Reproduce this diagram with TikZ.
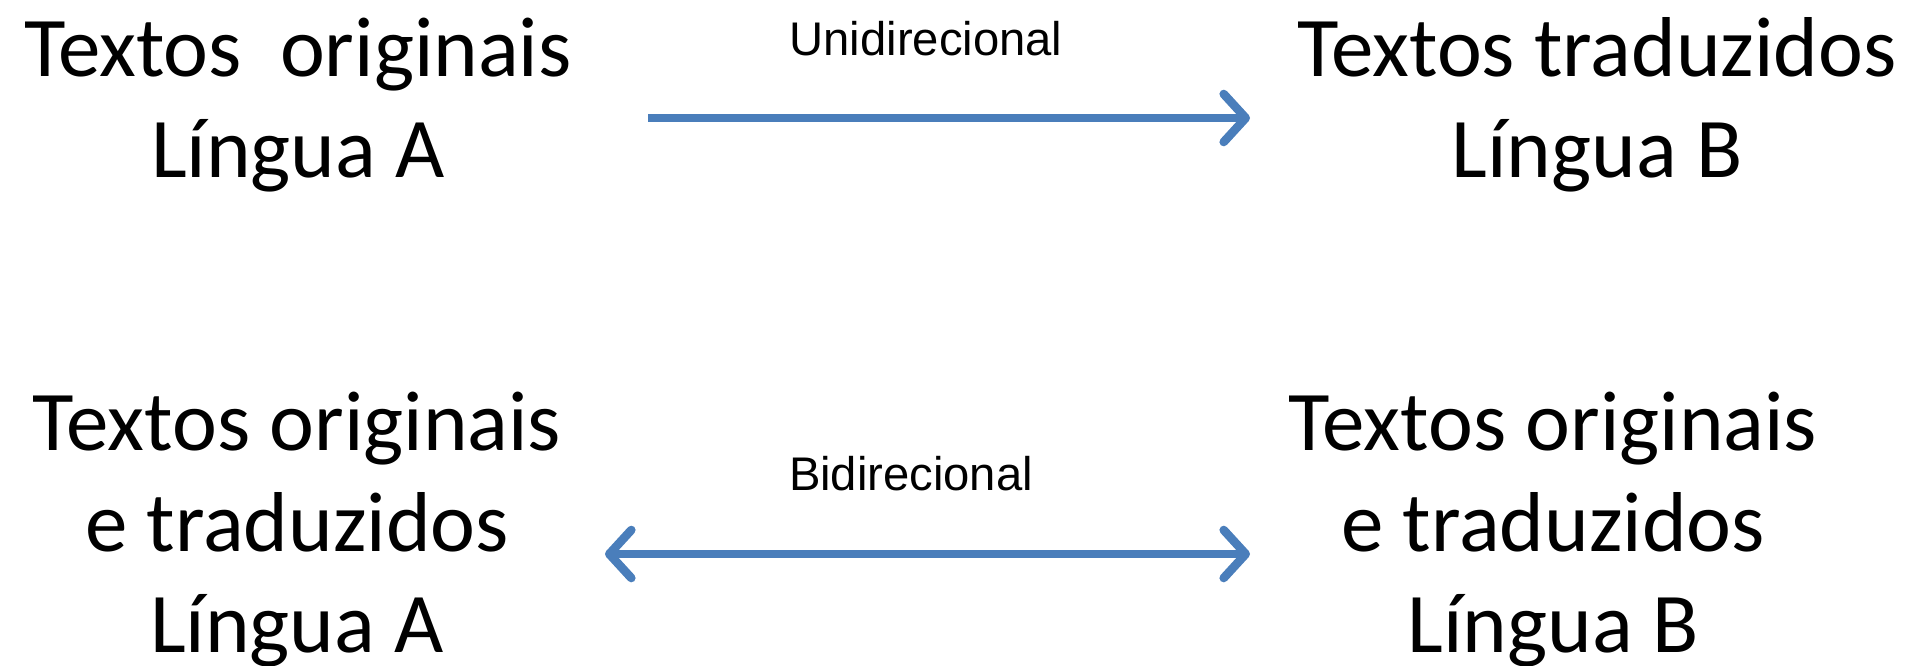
\documentclass[tikz,border=0pt]{standalone}
\usepackage{fontspec}
\setmainfont{Carlito}
\newfontfamily\labelfont{Liberation Sans}
\usetikzlibrary{arrows.meta}
\definecolor{arrowblue}{RGB}{74,126,187}
\tikzset{
  block/.style={font=\fontsize{42.5pt}{50.5pt}\selectfont, align=center, inner sep=0pt, anchor=base},
  tag/.style={font=\labelfont\fontsize{23.6pt}{28pt}\selectfont, inner sep=0pt, anchor=base},
  barb/.tip={Straight Barb[length=11pt, width=24pt, line cap=round, line join=round]},
  link/.style={draw=arrowblue, line width=4.3pt, -barb},
  twolink/.style={link, barb-barb}
}
\begin{document}
\begin{tikzpicture}[x=0.5pt, y=-0.5pt]
  \useasboundingbox (0,0) rectangle (1910,665);
  % one-way pair (anchor sits on the last line's baseline)
  \node[block] (origA) at (298,177) {Textos~ originais\\Língua A};
  \node[block] (tradB) at (1597,177) {Textos traduzidos\\Língua B};
  \coordinate (uStart) at (648,118);
  \coordinate (uEnd) at (1250,118);
  \draw[link] (uStart) -- (uEnd);
  \node[tag] (uni) at (926,55) {Unidirecional};
  % two-way pair
  \node[block] (bothA) at (297,652) {Textos originais\\e traduzidos\\Língua A};
  \node[block] (bothB) at (1553,652) {Textos originais\\e traduzidos\\Língua B};
  \coordinate (bStart) at (605,554);
  \coordinate (bEnd) at (1250,554);
  \draw[twolink] (bStart) -- (bEnd);
  \node[tag] (bi) at (911,490) {Bidirecional};
\end{tikzpicture}
\end{document}
